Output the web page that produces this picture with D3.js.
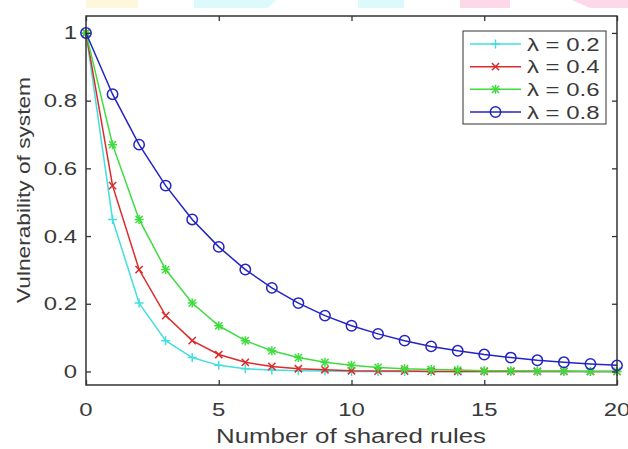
<!DOCTYPE html>
<html>
<head>
<meta charset="utf-8">
<script src="https://cdn.jsdelivr.net/npm/d3@7"></script>
<style>
  html, body { margin: 0; padding: 0; background: #fff; }
  svg { display: block; }
  text { font-family: "Liberation Sans", Arial, sans-serif; fill: #3a3a3a; }
</style>
</head>
<body>
<div id="chart"></div>
<script>
"use strict";

/***** data *****/
const sharedRules = [0, 1, 2, 3, 4, 5, 6, 7, 8, 9, 10, 11, 12, 13, 14, 15, 16, 17, 18, 19, 20];

const lambda02 = [1, 0.449, 0.202, 0.091, 0.041, 0.018, 0.008, 0.004, 0.002, 0.001, 0,
                  0, 0, 0, 0, 0, 0, 0, 0, 0, 0];
const lambda04 = [1, 0.549, 0.301, 0.165, 0.091, 0.050, 0.027, 0.015, 0.008, 0.005, 0.002,
                  0.001, 0.001, 0, 0, 0, 0, 0, 0, 0, 0];
const lambda06 = [1, 0.670, 0.449, 0.301, 0.202, 0.135, 0.091, 0.061, 0.041, 0.027, 0.018,
                  0.012, 0.008, 0.006, 0.004, 0.002, 0.002, 0.001, 0.001, 0, 0];
const lambda08 = [1, 0.819, 0.670, 0.549, 0.449, 0.368, 0.301, 0.247, 0.202, 0.165, 0.135,
                  0.111, 0.091, 0.074, 0.061, 0.050, 0.041, 0.033, 0.027, 0.022, 0.018];

const seriesNames = ["λ = 0.2", "λ = 0.4", "λ = 0.6", "λ = 0.8"];
const xTicks = [0, 5, 10, 15, 20];
const yTicks = [0, 0.2, 0.4, 0.6, 0.8, 1];

const series = [
    {name: seriesNames[0], values: lambda02, color: "#45dede", marker: "plus"},
    {name: seriesNames[1], values: lambda04, color: "#dd2a2a", marker: "cross"},
    {name: seriesNames[2], values: lambda06, color: "#3fdc3f", marker: "star"},
    {name: seriesNames[3], values: lambda08, color: "#2424c4", marker: "circle"}
];

/***** layout *****/
const W = 628, H = 449,
    stretch = 1.33,
    fs = 18,
    axisColor = "#333";

const svg = d3.select("#chart")
    .append("svg")
    .attr("width", W)
    .attr("height", H);

// faint colour strip at the very top of the picture
const strip = [
    {pts: [[86, 0], [138, 0], [138, 8], [86, 8]], c: "#fff7dc"},
    {pts: [[194, 0], [276, 0], [268, 8], [194, 8]], c: "#dcf9fb"},
    {pts: [[358, 0], [404, 0], [404, 8], [358, 8]], c: "#dcf9fb"},
    {pts: [[460, 0], [510, 0], [510, 8], [460, 8]], c: "#fcd8e8"},
    {pts: [[572, 0], [628, 0], [628, 8], [590, 8]], c: "#fcd8e8"}
];
svg.selectAll("polygon.strip")
    .data(strip)
    .enter()
    .append("polygon")
    .attr("class", "strip")
    .attr("points", d => d.pts.map(p => p.join(",")).join(" "))
    .attr("fill", d => d.c);

const x = d3.scaleLinear().domain([0, 20]).range([86, 617]);
const y = d3.scaleLinear().domain([-0.04, 1.05]).range([385, 16]);

const x0 = x.range()[0], x1 = x.range()[1],
    yTop = y.range()[1], yBot = y.range()[0];

/***** plot data *****/
const plot = svg.append("g");

const line = d3.line()
    .x((d, i) => x(sharedRules[i]))
    .y(d => y(d));

function marker(g, type, cx, cy, color) {
    let s = 4.5;
    let m = g.append("g")
        .attr("transform", `translate(${cx},${cy})`)
        .attr("stroke", color)
        .attr("stroke-width", 1.5)
        .attr("fill", "none");
    if (type == "plus" || type == "star") {
        m.append("path").attr("d", `M${-s},0H${s}M0,${-s}V${s}`);
    }
    if (type == "cross" || type == "star") {
        let c = s * 0.8;
        m.append("path").attr("d", `M${-c},${-c}L${c},${c}M${-c},${c}L${c},${-c}`);
    }
    if (type == "circle") {
        m.append("circle").attr("r", 5.2);
    }
}

series.forEach(s => {
    let g = plot.append("g");
    g.append("path")
        .datum(s.values)
        .attr("d", line)
        .attr("fill", "none")
        .attr("stroke", s.color)
        .attr("stroke-width", 1.5);
    s.values.forEach((v, i) => marker(g, s.marker, x(sharedRules[i]), y(v), s.color));
});

/***** axes *****/
const tickLen = 5;

svg.append("rect")
    .attr("x", x0)
    .attr("y", yTop)
    .attr("width", x1 - x0)
    .attr("height", yBot - yTop)
    .attr("fill", "none")
    .attr("stroke", axisColor)
    .attr("stroke-width", 1.5);

svg.append("g")
    .attr("transform", `translate(0,${yBot})`)
    .call(d3.axisBottom(x).tickValues(xTicks).tickSize(-tickLen).tickFormat(""))
    .call(g => g.select(".domain").remove());
svg.append("g")
    .attr("transform", `translate(0,${yTop})`)
    .call(d3.axisTop(x).tickValues(xTicks).tickSize(-tickLen).tickFormat(""))
    .call(g => g.select(".domain").remove());
svg.append("g")
    .attr("transform", `translate(${x0},0)`)
    .call(d3.axisLeft(y).tickValues(yTicks).tickSize(-tickLen).tickFormat(""))
    .call(g => g.select(".domain").remove());
svg.append("g")
    .attr("transform", `translate(${x1},0)`)
    .call(d3.axisRight(y).tickValues(yTicks).tickSize(-tickLen).tickFormat(""))
    .call(g => g.select(".domain").remove());

svg.selectAll(".tick line").attr("stroke", axisColor).attr("stroke-width", 1.3);

// tick labels
svg.selectAll("text.xtick")
    .data(xTicks)
    .enter()
    .append("text")
    .attr("class", "xtick")
    .attr("transform", d => `translate(${x(d)},416) scale(${stretch},1)`)
    .attr("text-anchor", "middle")
    .attr("font-size", fs)
    .text(d => d);

svg.selectAll("text.ytick")
    .data(yTicks)
    .enter()
    .append("text")
    .attr("class", "ytick")
    .attr("transform", d => `translate(77,${y(d) + 6.5}) scale(${stretch},1)`)
    .attr("text-anchor", "end")
    .attr("font-size", fs)
    .text(d => d);

// axis titles
svg.append("text")
    .attr("x", 351)
    .attr("y", 443)
    .attr("text-anchor", "middle")
    .attr("font-size", 20)
    .attr("textLength", 270)
    .attr("lengthAdjust", "spacingAndGlyphs")
    .text("Number of shared rules");

svg.append("text")
    .attr("transform", `translate(30,190) rotate(-90)`)
    .attr("text-anchor", "middle")
    .attr("font-size", 19)
    .attr("textLength", 226)
    .attr("lengthAdjust", "spacingAndGlyphs")
    .text("Vulnerability of system");

/***** legend *****/
const lg = svg.append("g");
lg.append("rect")
    .attr("x", 463)
    .attr("y", 31)
    .attr("width", 143)
    .attr("height", 93)
    .attr("fill", "#fff")
    .attr("stroke", axisColor)
    .attr("stroke-width", 1);

const rowY = d3.scalePoint().domain(seriesNames).range([44, 112]);

series.forEach(s => {
    let ry = rowY(s.name);
    lg.append("line")
        .attr("x1", 470).attr("x2", 521)
        .attr("y1", ry).attr("y2", ry)
        .attr("stroke", s.color)
        .attr("stroke-width", 1.5);
    marker(lg, s.marker, 495.5, ry, s.color);
    lg.append("text")
        .attr("transform", `translate(527,${ry + 6.5}) scale(${stretch},1)`)
        .attr("font-size", fs)
        .text(s.name);
});
</script>
</body>
</html>
